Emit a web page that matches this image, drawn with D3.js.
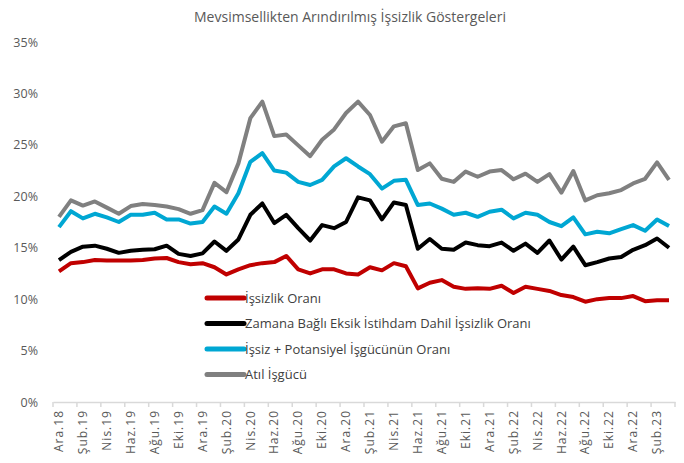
<!DOCTYPE html>
<html>
<head>
<meta charset="utf-8">
<script src="https://cdn.jsdelivr.net/npm/d3@7"></script>
<style>
  body { margin: 0; background: #fff; }
  svg { font-family: "Open Sans", "Noto Sans", sans-serif; }
</style>
</head>
<body>
<svg id="chart" width="684" height="463"></svg>
<script>
// months Ara.18 .. Mar.23
const months = ["Ara.18","Oca.19","Şub.19","Mar.19","Nis.19","May.19","Haz.19","Tem.19","Ağu.19","Eyl.19","Eki.19","Kas.19",
  "Ara.19","Oca.20","Şub.20","Mar.20","Nis.20","May.20","Haz.20","Tem.20","Ağu.20","Eyl.20","Eki.20","Kas.20",
  "Ara.20","Oca.21","Şub.21","Mar.21","Nis.21","May.21","Haz.21","Tem.21","Ağu.21","Eyl.21","Eki.21","Kas.21",
  "Ara.21","Oca.22","Şub.22","Mar.22","Nis.22","May.22","Haz.22","Tem.22","Ağu.22","Eyl.22","Eki.22","Kas.22",
  "Ara.22","Oca.23","Şub.23","Mar.23"];

const issizlik = [12.7,13.5,13.6,13.8,13.75,13.75,13.75,13.8,13.95,14.0,13.6,13.4,
  13.5,13.1,12.4,12.9,13.3,13.5,13.6,14.2,12.9,12.5,12.9,12.9,
  12.5,12.4,13.1,12.8,13.5,13.2,11.05,11.6,11.85,11.2,11.0,11.05,
  11.0,11.3,10.6,11.2,11.0,10.8,10.4,10.2,9.75,10.0,10.1,10.1,
  10.3,9.8,9.9,9.9];
const zamanaBagli = [13.8,14.6,15.1,15.2,14.9,14.5,14.7,14.8,14.85,15.2,14.4,14.2,
  14.45,15.6,14.7,15.8,18.2,19.3,17.4,18.2,16.9,15.7,17.2,16.9,
  17.5,19.9,19.6,17.75,19.4,19.15,14.9,15.85,14.9,14.8,15.5,15.25,
  15.15,15.5,14.7,15.4,14.5,15.7,13.85,15.1,13.3,13.6,13.95,14.1,
  14.8,15.25,15.9,15.0];
const potansiyel = [17.0,18.55,17.85,18.3,17.95,17.5,18.2,18.2,18.4,17.75,17.75,17.35,
  17.5,19.0,18.3,20.3,23.35,24.2,22.5,22.3,21.4,21.1,21.6,22.9,
  23.7,22.9,22.15,20.75,21.5,21.6,19.15,19.3,18.8,18.2,18.4,18.0,
  18.5,18.7,17.85,18.4,18.2,17.5,17.1,17.95,16.3,16.55,16.4,16.8,
  17.2,16.65,17.75,17.1];
const atilIsgucu = [18.0,19.6,19.1,19.5,18.9,18.3,19.05,19.25,19.15,19.0,18.75,18.3,
  18.65,21.3,20.4,23.2,27.6,29.2,25.85,26.0,24.95,23.9,25.5,26.5,
  28.1,29.2,27.9,25.3,26.8,27.1,22.55,23.2,21.7,21.4,22.4,21.9,
  22.4,22.55,21.65,22.2,21.4,22.15,20.35,22.45,19.6,20.1,20.3,20.6,
  21.25,21.7,23.3,21.6];

const seriesNames = ["İşsizlik Oranı","Zamana Bağlı Eksik İstihdam Dahil İşsizlik Oranı","İşsiz + Potansiyel İşgücünün Oranı","Atıl İşgücü"];
const seriesColors = ["#C00000","#000000","#00A7D3","#808080"];
const yTicks = [0,5,10,15,20,25,30,35];

const series = [issizlik, zamanaBagli, potansiyel, atilIsgucu];

const svg = d3.select("#chart");
const margin = { top: 42, right: 9, bottom: 61, left: 53 };
const W = 684 - margin.left - margin.right;
const H = 463 - margin.top - margin.bottom;

const g = svg.append("g").attr("transform", `translate(${margin.left},${margin.top})`);

const x = d3.scaleBand().domain(months).range([0, W]);
const y = d3.scaleLinear().domain([0, 35]).range([H, 0]);

// title
svg.append("text")
  .attr("x", 350).attr("y", 22)
  .attr("text-anchor", "middle")
  .attr("font-size", "14px")
  .attr("fill", "#595959")
  .text("Mevsimsellikten Arındırılmış İşsizlik Göstergeleri");

// y axis labels
const yAxis = g.append("g")
  .call(d3.axisLeft(y).tickValues(yTicks).tickFormat(d => d + "%").tickSize(0).tickPadding(15));
yAxis.select(".domain").remove();
yAxis.selectAll("text").attr("font-size", "12.5px").attr("fill", "#595959")
  .attr("font-family", "'Open Sans', sans-serif");

// x axis
const labelMonths = months.filter((d, i) => i % 2 === 0);
const xAxis = g.append("g")
  .attr("transform", `translate(0,${H})`)
  .call(d3.axisBottom(x).tickValues(labelMonths).tickSize(0).tickPadding(0));
xAxis.select(".domain").attr("stroke", "#D9D9D9").attr("stroke-width", 1.5);
xAxis.selectAll("text")
  .attr("font-size", "12px")
  .attr("letter-spacing", "1px")
  .attr("fill", "#595959")
  .attr("font-family", "'Open Sans', sans-serif")
  .attr("text-anchor", "end")
  .attr("dy", "0.35em")
  .attr("transform", "translate(0,8) rotate(-90)");

// tick marks between categories, every 2 months
g.append("g").selectAll("line")
  .data(d3.range(0, months.length + 1, 2))
  .join("line")
  .attr("x1", i => i * x.step()).attr("x2", i => i * x.step())
  .attr("y1", H).attr("y2", H + 5)
  .attr("stroke", "#D9D9D9").attr("stroke-width", 1.5);

// lines
const line = d3.line()
  .x((d, i) => x(months[i]) + x.bandwidth() / 2)
  .y(d => y(d));

series.forEach((s, k) => {
  g.append("path")
    .datum(s)
    .attr("fill", "none")
    .attr("stroke", seriesColors[k])
    .attr("stroke-width", 4)
    .attr("stroke-linejoin", "round")
    .attr("d", line);
});

// legend
const legend = svg.append("g").attr("transform", "translate(205,298)");
seriesNames.forEach((name, k) => {
  const row = legend.append("g").attr("transform", `translate(0,${k * 25.5})`);
  row.append("line")
    .attr("x1", 2).attr("x2", 39)
    .attr("stroke", seriesColors[k])
    .attr("stroke-width", 5)
    .attr("stroke-linecap", "round");
  row.append("text")
    .attr("x", 40).attr("y", 0)
    .attr("dy", "0.35em")
    .attr("font-size", "13px")
    .attr("fill", "#404040")
    .text(name);
});
</script>
</body>
</html>
